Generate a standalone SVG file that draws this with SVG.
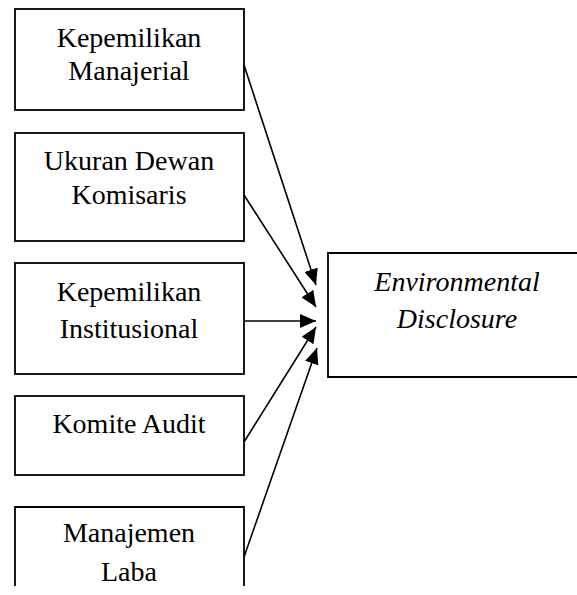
<svg xmlns="http://www.w3.org/2000/svg" width="577" height="595" viewBox="0 0 577 595">
<defs>
<style>
.box{fill:none;stroke:#000;stroke-width:1.8}
.t{font-family:"Liberation Serif","Times New Roman",serif;font-size:28px;fill:#000;text-anchor:middle}
.i{font-style:italic}
.c{stroke:#000;stroke-width:1.6;fill:none;marker-end:url(#ah)}
</style>
<marker id="ah" markerUnits="userSpaceOnUse" markerWidth="17" markerHeight="14" refX="16" refY="7" orient="auto">
<path d="M0,0 L16,7 L0,14 z" fill="#000"/>
</marker>
</defs>
<rect width="577" height="595" fill="#fff"/>
<g id="n1">
<rect class="box" x="15" y="9" width="229" height="101"/>
<text class="t" x="129" y="47">Kepemilikan</text>
<text class="t" x="129" y="80">Manajerial</text>
</g>
<g id="n2">
<rect class="box" x="15" y="133" width="229" height="108"/>
<text class="t" x="129" y="170">Ukuran Dewan</text>
<text class="t" x="129" y="204">Komisaris</text>
</g>
<g id="n3">
<rect class="box" x="15" y="263" width="229" height="111"/>
<text class="t" x="129" y="301">Kepemilikan</text>
<text class="t" x="129" y="338">Institusional</text>
</g>
<g id="n4">
<rect class="box" x="15" y="396" width="229" height="79"/>
<text class="t" x="129" y="433">Komite Audit</text>
</g>
<g id="n5">
<path class="box" d="M15,586 V507 H244 V586"/>
<text class="t" x="129" y="542">Manajemen</text>
<text class="t" x="129" y="581">Laba</text>
</g>
<g id="target">
<path class="box" d="M580,253 H328 V377 H580"/>
<text class="t i" x="457" y="291">Environmental</text>
<text class="t i" x="457" y="328">Disclosure</text>
</g>
<g id="connectors">
<line class="c" x1="244" y1="65" x2="316" y2="285"/>
<line class="c" x1="244" y1="195" x2="316" y2="307"/>
<line class="c" x1="244" y1="321" x2="316" y2="321"/>
<line class="c" x1="244" y1="442" x2="316" y2="327"/>
<line class="c" x1="244" y1="557" x2="317" y2="348"/>
</g>
</svg>
